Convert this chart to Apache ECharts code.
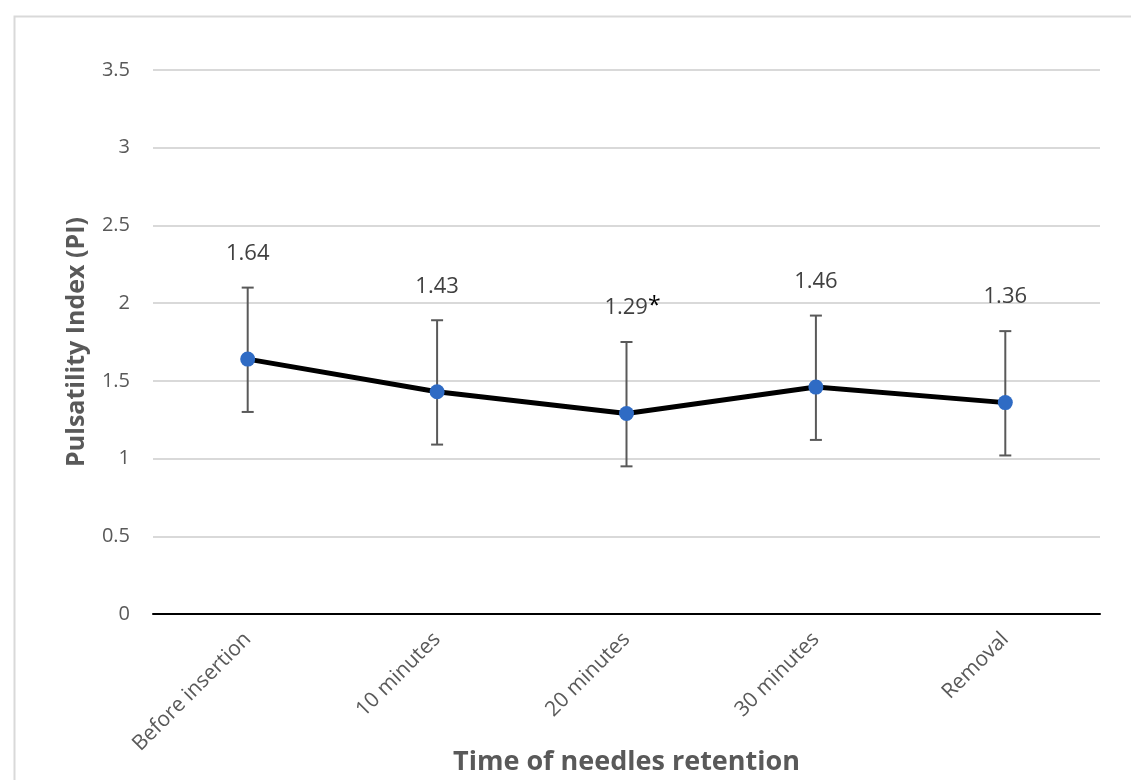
<!DOCTYPE html>
<html><head><meta charset="utf-8">
<script src="https://cdn.jsdelivr.net/npm/echarts@6/dist/echarts.min.js"></script>
<style>html,body{margin:0;padding:0;background:#fff}#c{width:1131px;height:780px}</style>
</head><body><div id="c"></div>
<script>
const categories = ['Before insertion', '10 minutes', '20 minutes', '30 minutes', 'Removal'];
const means = [1.64, 1.43, 1.29, 1.46, 1.36];
const errHigh = [2.10, 1.89, 1.75, 1.92, 1.82];
const errLow = [1.30, 1.09, 0.95, 1.12, 1.02];
const labels = ['1.64', '1.43', '1.29', '1.46', '1.36'];
const marks = ['', '', '*', '', ''];
const yTicks = [0, 0.5, 1, 1.5, 2, 2.5, 3, 3.5];

const chart = echarts.init(document.getElementById('c'));
const errData = categories.map((c, i) => [i, errLow[i], errHigh[i], labels[i], marks[i]]);
chart.setOption({
  animation: false,
  graphic: [{type: 'rect', left: 12, top: 14, shape: {width: 1200, height: 800}, style: {fill: 'none', stroke: '#d9d9d9', lineWidth: 2}, z: -1}],
  grid: {left: 153, right: 31, top: 70, bottom: 166, containLabel: false, outerBoundsMode: 'none'},
  xAxis: {
    type: 'category', data: categories, boundaryGap: true,
    axisLine: {lineStyle: {color: '#000', width: 2}},
    axisTick: {show: false},
    axisLabel: {rotate: 45, color: '#595959', fontSize: 21, fontFamily: 'Open Sans', margin: 22},
    name: 'Time of needles retention', nameLocation: 'middle', nameGap: 135, nameMoveOverlap: false,
    nameTextStyle: {color: '#595959', fontSize: 27, fontWeight: 'bold', fontFamily: 'Open Sans'}
  },
  yAxis: {
    type: 'value', min: 0, max: 3.5, interval: 0.5,
    axisLine: {show: false}, axisTick: {show: false},
    splitLine: {lineStyle: {color: '#d9d9d9', width: 2}},
    axisLabel: {color: '#595959', fontSize: 20, fontFamily: 'Open Sans', margin: 23,
      formatter: v => yTicks.includes(v) ? String(v) : ''},
    name: 'Pulsatility Index (PI)', nameLocation: 'middle', nameGap: 64, nameMoveOverlap: false,
    nameTextStyle: {color: '#595959', fontSize: 25, fontWeight: 'bold', fontFamily: 'Open Sans'}
  },
  series: [
    {
      type: 'custom', z: 3,
      renderItem: function (params, api) {
        const x = api.value(0);
        const lo = api.coord([x, api.value(1)]);
        const hi = api.coord([x, api.value(2)]);
        const hw = 6;
        const st = {stroke: '#595959', lineWidth: 2};
        const lbl = api.value(3), mk = api.value(4);
        return {type: 'group', children: [
          {type: 'line', shape: {x1: hi[0], y1: hi[1], x2: lo[0], y2: lo[1]}, style: st},
          {type: 'line', shape: {x1: hi[0] - hw, y1: hi[1], x2: hi[0] + hw, y2: hi[1]}, style: st},
          {type: 'line', shape: {x1: lo[0] - hw, y1: lo[1], x2: lo[0] + hw, y2: lo[1]}, style: st},
          {type: 'text', x: hi[0] + (mk ? 6 : 0), y: hi[1] - 34, style: {
            text: '{a|' + lbl + '}' + (mk ? '{b|' + mk + '}' : ''),
            rich: {a: {fill: '#404040', fontSize: 22, fontFamily: 'Open Sans'},
                   b: {fill: '#000', fontSize: 23, fontFamily: 'Open Sans', verticalAlign: 'top', padding: [0, 0, 4, 0]}},
            align: 'center', verticalAlign: 'middle'}}
        ]};
      },
      encode: {x: 0, y: [1, 2]},
      data: errData
    },
    {
      type: 'line', data: means, z: 4,
      lineStyle: {color: '#000', width: 5},
      symbol: 'circle', symbolSize: 15,
      itemStyle: {color: '#2F6BC4'}
    }
  ]
});
</script></body></html>
